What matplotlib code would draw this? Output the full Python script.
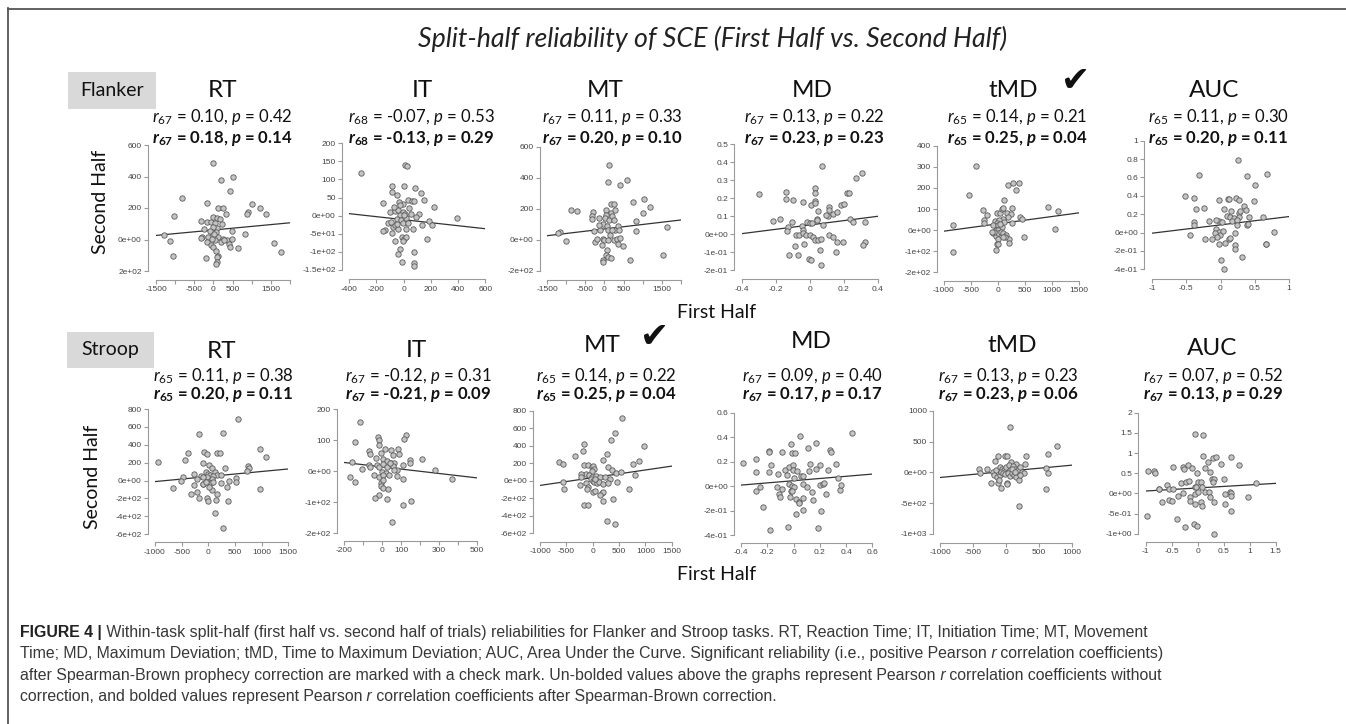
import matplotlib
matplotlib.use('Agg')
import matplotlib.pyplot as plt
from matplotlib.patches import Rectangle
from matplotlib.lines import Line2D

W, H = 1346, 724

plt.rcParams['font.family'] = ['Lato', 'DejaVu Sans']
plt.rcParams['mathtext.fontset'] = 'custom'
plt.rcParams['mathtext.rm'] = 'Lato'
plt.rcParams['mathtext.it'] = 'Lato:italic'
plt.rcParams['mathtext.bf'] = 'Lato:bold'
plt.rcParams['mathtext.bfit'] = 'Lato:italic:bold'

## data (first half = x, second half = y)
flk_rt_x = [0, 192, 523, -828, -157, 131, 244, 436, 1003, 1221, 915, 872, 1377, -1029, -323, -174, -244, -61, 0, 87,
            44, 174, 331, 218, 87, 0, -87, 70, -44, -131, 131, 262, 349, 418, 480, -288, -323, -174, -52, 0,
            70, 131, 105, 87, 70, -192, 436, 654, 828, 480, -1290, -1133, -1046, 1587, 1770, 44, 192, 279, 17, -26]
flk_rt_y = [486, 376, 397, 261, 234, 202, 202, 308, 223, 197, 172, 159, 161, 149, 119, 110, 64, 110, 142, 136,
            104, 132, 163, 96, 70, 79, 57, 47, 25, 15, 15, 2, -2, -28, 2, 19, 11, -17, -34, -49,
            -74, -102, -113, -144, -155, -117, -49, -51, 32, 51, 30, -11, -106, -25, -79, -6, -17, -6, 36, 4]

flk_it_x = [-317, 10, 27, -86, 2, 83, -86, 125, -52, 34, 59, 79, 150, -150, 226, -101, -64, -39, -7, 10,
            -27, 52, 115, 91, -52, -20, 17, -118, -81, -64, -39, -2, 17, 66, 133, 186, 206, -137, -150, -86,
            -15, 2, 20, -7, -61, 169, -27, -44, 79, -15, 79, 79, 395, -69, -2, 42, -37, -96, -47, 34, 5, -27]
flk_it_y = [117, 139, 137, 83, 83, 77, 65, 62, 56, 43, 41, 40, 42, 36, 24, 10, 14, 16, 11, 6,
            2, 5, 6, -3, -10, -12, -7, -21, -31, -27, -38, -19, -38, -38, -25, -14, -26, -40, -42, -49,
            -58, -64, -58, -69, -69, -65, -91, -105, -101, -128, -132, -139, -5, 25, 33, 20, 39, -17, -22, -19, 2, 30]

flk_mt_x = [114, 87, 420, 595, -875, -726, -289, -324, -332, -149, 35, 166, 184, 254, 280, 44, 18, 114, 192, 254,
            761, 1032, 1198, 998, 840, 831, 1636, -1164, -1207, -1006, -245, -114, -26, 61, -131, 105, 149, 280, 367, 394,
            -44, 0, 87, 254, 324, 411, 367, 481, -262, -70, 61, 35, 105, 166, -26, -26, 674, 1540, -201, 192]
flk_mt_y = [484, 372, 351, 387, 194, 183, 176, 155, 133, 140, 189, 170, 230, 230, 189, 161, 140, 129, 151, 129,
            243, 265, 213, 172, 123, 54, 82, 49, 43, -11, -17, 65, 103, 86, 97, 65, 32, 65, 86, 60,
            4, 0, 0, 0, 4, 9, -30, -43, 58, -32, -69, -97, -112, -116, -133, -146, -129, -99, 4, 65]

flk_md_x = [-0.30, -0.221, -0.178, -0.142, -0.142, -0.103, -0.039, 0.069, 0.030, 0.030, 0.030, 0.006, 0.030, 0.049,
            0.114, 0.114, 0.105, 0.138, 0.158, 0.183, 0.203, 0.221, 0.231, 0.272, 0.306, -0.132, -0.138, -0.105,
            -0.049, -0.039, -0.020, 0, 0.010, 0.039, 0.039, 0.079, 0.095, -0.081, -0.063, -0.043, -0.024, 0, 0.016,
            0.030, 0.049, 0.065, 0.114, 0.138, 0.158, 0.197, 0.237, 0.256, 0.325, 0.325, 0.316, -0.089, -0.069,
            -0.126, -0.004, 0.004, 0.059, 0.065, 0.154, -0.034]
flk_md_y = [0.224, 0.074, 0.083, 0.233, 0.196, 0.191, 0.180, 0.378, 0.259, 0.228, 0.185, 0.165, 0.172, 0.131,
            0.154, 0.135, 0.102, 0.111, 0.126, 0.165, 0.169, 0.228, 0.228, 0.315, 0.339, 0.043, 0.020, 0.070,
            0.048, 0.024, 0.070, 0.061, 0.065, 0.087, 0.080, 0.052, 0.107, -0.002, -0.006, 0.006, -0.004, -0.006,
            -0.013, -0.031, -0.031, -0.028, -0.006, -0.013, -0.041, -0.043, 0.083, 0.070, 0.070, -0.041, -0.059,
            -0.065, -0.115, -0.115, -0.139, -0.143, -0.087, -0.170, -0.100, -0.056]

flk_tmd_x = [-413, -530, -837, -837, -271, -197, -253, -253, -55, -25, 37, 111, 68, 86, 191, 283, 388, 333, 160, 253,
             240, 179, 99, 25, -25, -86, 6, 68, 111, 253, 406, 437, 917, 1114, 1053, 486, -37, 6, -86, -37,
             6, 49, 99, 148, 197, 209, 130, -6, -25, 6, -37, -74, 37, -117, 86]
flk_tmd_y = [303, 166, 22, -103, 96, 70, 47, 35, 43, 79, 79, 142, 98, 107, 213, 221, 221, 190, 79, 103,
             76, 63, 54, 47, 32, 24, 24, 16, 39, 32, 63, 51, 111, 90, 6, -35, 0, 0, -16, -28,
             -16, -8, -16, -24, -44, -60, -32, -44, -66, -68, -92, -8, 28, -8, -32]

flk_auc_x = [0.253, -0.311, 0.384, 0.686, 0.501, -0.521, -0.389, -0.355, -0.234, -0.019, 0.112, 0.131, 0.224,
             0.277, 0.336, 0.482, 0.365, 0.054, 0.156, 0.272, 0.409, 0.618, 0.092, 0.141, 0.200, 0.272, 0.175,
             0.238, 0.384, 0.399, 0.234, -0.029, 0.029, -0.394, -0.394, -0.175, -0.068, -0.063, -0.029, -0.005,
             0.034, -0.078, -0.044, -0.127, -0.224, -0.443, 0.117, 0.141, 0.214, 0.068, -0.015, 0.214, 0.214,
             0.311, 0.005, 0.044, 0.662, 0.667, 0.788, 0.287]
flk_auc_y = [0.793, 0.630, 0.616, 0.634, 0.518, 0.402, 0.373, 0.254, 0.272, 0.359, 0.366, 0.366, 0.377, 0.351,
             0.293, 0.344, 0.243, 0.257, 0.236, 0.210, 0.170, 0.167, 0.181, 0.167, 0.156, 0.174, 0.130, 0.138,
             0.083, 0.091, 0.083, 0.127, 0.120, 0.120, 0.080, 0.130, 0.138, 0.036, 0.004, -0.025, 0.018, -0.007,
             -0.051, -0.072, -0.069, -0.029, -0.065, -0.062, -0.007, -0.109, -0.127, -0.138, -0.178, -0.261,
             -0.297, -0.395, -0.127, -0.123, 0.011, 0.236]

str_rt_x = [562, -169, 269, -375, -75, -31, 169, 219, -950, -431, -94, 12, 75, 312, 969, 1081, 750, 762, 731, -262,
            -137, -50, -12, 31, 125, 169, 231, 94, 62, -19, -94, -206, -469, -512, -262, -100, 0, 44, 94, 231,
            394, 519, 519, 344, -94, -669, -319, -212, -175, -19, 0, 69, 156, 150, 375, 975, 125, 281, -44, 19]
str_rt_y = [685, 517, 536, 305, 316, 302, 309, 309, 205, 227, 194, 175, 141, 141, 350, 268, 160, 145, 104, 74,
            52, 97, 78, 67, 97, 67, 63, 52, 22, 41, 41, 22, 41, -7, -48, -34, -15, -26, -11, -22,
            -7, 26, -15, -71, -41, -86, -145, -123, -194, -190, -223, -108, -149, -220, -227, -89, -365, -529, -15, -71]

str_it_x = [-116, -146, -23, -14, 127, 116, -72, -64, -19, 16, 46, 86, 56, 90, -5, -32, 7, 25, 46, 65,
            148, 210, 148, -161, -108, -72, -64, -28, -14, 4, 28, 60, 78, 109, -2, 65, 21, 78, 109, -41,
            -19, 4, 34, -169, -143, 281, 372, -5, -5, 4, 30, -14, -37, 25, 152, 109, 51, 7, 42]
str_it_y = [158, 94, 110, 102, 116, 103, 66, 54, 83, 72, 70, 72, 51, 54, 58, 43, 39, 33, 27, 25,
            36, 40, 25, 31, 8, 19, 12, 19, 12, 23, 12, 16, 5, 19, -2, 3, -5, -16, -25, -13,
            -20, -13, -13, -18, -35, 4, -24, -38, -49, -53, -58, -78, -88, -91, -98, -110, -166, -29, 25]

str_mt_x = [557, 430, 342, 968, -165, -190, -335, 278, -639, -570, 880, 759, 190, 285, 373, 443, 532, 797, -158, -95,
            -19, 13, 32, -6, -120, -228, -222, -70, -19, 63, 139, 234, 329, 456, -241, -127, -38, 0, 32, 76,
            127, 190, 285, -82, -114, 13, 44, 171, 203, 139, 190, 392, -165, -95, 266, 424, -570, -551, 696, 44]
str_mt_y = [722, 540, 471, 399, 418, 342, 285, 300, 217, 194, 228, 186, 236, 160, 122, 84, 103, 61, 179, 175,
            160, 171, 133, 114, 72, 76, 38, 61, 46, 57, 46, 38, 15, -19, -49, -30, 15, 0, -19, -30,
            -11, -42, -30, -68, -95, -125, -114, -144, -133, -163, -232, -213, -274, -278, -456, -490, -19, -91, -95, 15]

str_md_x = [-0.386, -0.282, -0.287, -0.287, -0.256, -0.236, -0.185, -0.183, -0.173, -0.185, -0.180, -0.089, -0.117,
            -0.124, -0.109, -0.104, -0.084, -0.066, -0.036, -0.023, -0.015, 0.010, 0.048, -0.003, -0.003, 0.023,
            0.003, -0.033, -0.008, 0.003, -0.023, -0.015, -0.028, -0.041, 0.018, 0.043, 0.043, 0.074, 0.069, 0.018,
            0.069, 0.056, 0.074, 0.112, 0.129, 0.119, 0.104, 0.137, 0.150, 0.170, 0.170, 0.201, 0.201, 0.226,
            0.234, 0.213, 0.183, 0.246, 0.264, 0.277, 0.289, 0.327, 0.340, 0.353, 0.365, 0.442, -0.053]
str_md_y = [0.188, 0.220, 0.112, -0.044, -0.008, -0.174, 0.286, 0.280, 0.169, 0.112, -0.362, 0.278, 0.101, -0.011,
            -0.068, -0.087, -0.027, 0.131, 0.158, 0.340, 0.267, 0.272, 0.408, 0.171, 0.131, 0.125, 0.063, 0.014,
            0.003, -0.005, -0.041, -0.041, -0.093, -0.337, -0.106, -0.128, -0.141, -0.101, -0.196, -0.231, 0.019,
            0.084, 0.084, 0.313, 0.182, 0.125, -0.005, -0.052, -0.112, 0.351, 0.139, 0.169, 0.011, 0.014, 0.022,
            -0.201, -0.343, -0.068, 0.131, 0.299, 0.280, 0.182, 0.068, -0.035, 0.008, 0.430, 0.090]

str_tmd_x = [56, 775, 634, -112, -10, 15, 304, -172, 81, 157, 284, -405, -390, -279, -198, -147, -96, -61, -35, 5,
             41, 66, 106, 142, 182, 218, 243, 279, 613, 639, -177, -137, -96, -76, -46, -10, 30, 66, 96, 127,
             157, 193, 218, -223, -122, -101, 15, 15, -76, 613, 193, 96, 132]
str_tmd_y = [732, 423, 293, 271, 276, 276, 266, 190, 173, 146, 136, 49, -5, 65, 11, 38, 92, 65, 38, 92,
             119, 38, 103, 65, 38, 92, 11, -5, 81, -11, -43, -70, -43, 11, -16, -27, -5, -60, -5, -43,
             -70, -114, -33, -163, -163, -125, -163, -179, -249, -266, -542, 49, 0]

str_auc_x = [-0.051, 0.109, 0.096, 0.288, 0.353, 0.641, 0.801, 0.442, 0.192, -0.962, -0.840, -0.814, -0.468, -0.288,
             -0.256, -0.179, -0.115, -0.019, 0.141, 0.237, -0.596, -0.545, -0.468, -0.737, -0.321, -0.224, -0.160,
             0.013, 0.058, -0.051, -0.032, 0.077, 0.282, 0.314, 0.288, 0.506, 0.622, 0.635, 0.635, 0.526, 1.122,
             0.974, -0.288, -0.385, -0.147, -0.051, 0, 0.141, 0.224, 0.237, 0.064, 0.077, -0.051, 0.314, 0.526,
             0.635, -0.147, -0.558, -0.494, -0.692, -0.981, -0.404, -0.244, -0.064, -0.019, 0.314, -0.75]
str_auc_y = [1.463, 1.446, 0.934, 0.884, 0.909, 0.909, 0.694, 0.727, 0.777, 0.562, 0.562, 0.512, 0.653, 0.661,
             0.612, 0.711, 0.620, 0.496, 0.620, 0.521, 0.207, 0.107, 0.116, 0.107, 0.264, 0.289, 0.298, 0.289,
             0.273, 0.165, 0.157, 0.165, 0.347, 0.347, 0.281, 0.347, 0.041, 0, -0.066, -0.017, 0.248, -0.083, 0,
             -0.066, -0.083, -0.017, 0.025, 0.025, 0.025, -0.099, -0.223, -0.306, -0.264, -0.215, -0.273, -0.430,
             -0.182, -0.165, -0.182, -0.223, -0.554, -0.628, -0.835, -0.769, -0.810, -1.0, 0.107]

measures = ['RT', 'IT', 'MT', 'MD', 'tMD', 'AUC']

# fitted lines (intercept, slope) as drawn in the figure
flk_fit = [(60.3, 0.0229), (-11.0, -0.0416), (69.3, 0.0289), (0.052, 0.12), (29.8, 0.0348), (0.0835, 0.0905)]
str_fit = [(45.4, 0.0564), (13.8, -0.0709), (35.0, 0.088), (0.044, 0.09), (19.0, 0.1), (0.134, 0.076)]

# stats: df, r, p (uncorrected) and r, p (Spearman-Brown corrected)
flk_df = [67, 68, 67, 67, 65, 65]
flk_r = ['0.10', '-0.07', '0.11', '0.13', '0.14', '0.11']
flk_p = ['0.42', '0.53', '0.33', '0.22', '0.21', '0.30']
flk_r_sb = ['0.18', '-0.13', '0.20', '0.23', '0.25', '0.20']
flk_p_sb = ['0.14', '0.29', '0.10', '0.23', '0.04', '0.11']
str_df = [65, 67, 65, 67, 67, 67]
str_r = ['0.11', '-0.12', '0.14', '0.09', '0.13', '0.07']
str_p = ['0.38', '0.31', '0.22', '0.40', '0.23', '0.52']
str_r_sb = ['0.20', '-0.21', '0.25', '0.17', '0.23', '0.13']
str_p_sb = ['0.11', '0.09', '0.04', '0.17', '0.06', '0.29']

# axis ticks / labels
flk_xticks = [[-1500, -1000, -500, 0, 500, 1000, 1500, 2000], [-400, -200, 0, 200, 400, 600],
              [-1500, -1000, -500, 0, 500, 1000, 1500, 2000], [-0.4, -0.2, 0, 0.2, 0.4],
              [-1000, -500, 0, 500, 1000, 1500], [-1, -0.5, 0, 0.5, 1]]
flk_xlabs = [['-1500', '', '-500', '0', '500', '', '1500', ''], ['-400', '-200', '0', '200', '400', '600'],
             ['-1500', '', '-500', '0', '500', '', '1500', ''], ['-0.4', '-0.2', '0', '0.2', '0.4'],
             ['-1000', '-500', '0', '500', '1000', '1500'], ['-1', '-0.5', '0', '0.5', '1']]
flk_yticks = [[-200, 0, 200, 400, 600], [-150, -100, -50, 0, 50, 100, 150, 200], [-200, 0, 200, 400, 600],
              [-0.2, -0.1, 0, 0.1, 0.2, 0.3, 0.4, 0.5], [-200, -100, 0, 100, 200, 300, 400],
              [-0.4, -0.2, 0, 0.2, 0.4, 0.6, 0.8, 1]]
flk_ylabs = [['2e+02', '0e+00', '200', '400', '600'],
             ['-1.5e+02', '-1e+02', '-5e+01', '0e+00', '50', '100', '150', '200'],
             ['-2e+02', '0e+00', '200', '400', '600'],
             ['-2e-01', '-1e-01', '0e+00', '0.1', '0.2', '0.3', '0.4', '0.5'],
             ['-2e+02', '-1e+02', '0e+00', '100', '200', '300', '400'],
             ['-4e-01', '-2e-01', '0e+00', '0.2', '0.4', '0.6', '0.8', '1']]
str_xticks = [[-1000, -500, 0, 500, 1000, 1500], [-200, -100, 0, 100, 200, 300, 400, 500],
              [-1000, -500, 0, 500, 1000, 1500], [-0.4, -0.2, 0, 0.2, 0.4, 0.6],
              [-1000, -500, 0, 500, 1000], [-1, -0.5, 0, 0.5, 1, 1.5]]
str_xlabs = [['-1000', '-500', '0', '500', '1000', '1500'], ['-200', '', '0', '100', '', '300', '', '500'],
             ['-1000', '-500', '0', '500', '1000', '1500'], ['-0.4', '-0.2', '0', '0.2', '0.4', '0.6'],
             ['-1000', '-500', '0', '500', '1000'], ['-1', '-0.5', '0', '0.5', '1', '1.5']]
str_yticks = [[-600, -400, -200, 0, 200, 400, 600, 800], [-200, -100, 0, 100, 200],
              [-600, -400, -200, 0, 200, 400, 600, 800], [-0.4, -0.2, 0, 0.2, 0.4, 0.6],
              [-1000, -500, 0, 500, 1000], [-1, -0.5, 0, 0.5, 1, 1.5, 2]]
str_ylabs = [['-6e+02', '-4e+02', '-2e+02', '0e+00', '200', '400', '600', '800'],
             ['-2e+02', '-1e+02', '0e+00', '100', '200'],
             ['-6e+02', '-4e+02', '-2e+02', '0e+00', '200', '400', '600', '800'],
             ['-4e-01', '-2e-01', '0e+00', '0.2', '0.4', '0.6'],
             ['-1e+03', '-5e+02', '0e+00', '500', '1000'],
             ['-1e+00', '-5e-01', '0e+00', '0.5', '1', '1.5', '2']]

caption = [
    [('FIGURE 4 |', 'bold'), (' Within-task split-half (first half vs. second half of trials) reliabilities for '
                              'Flanker and Stroop tasks. RT, Reaction Time; IT, Initiation Time; MT, Movement', 'normal')],
    [('Time; MD, Maximum Deviation; tMD, Time to Maximum Deviation; AUC, Area Under the Curve. Significant '
      'reliability (i.e., positive Pearson', 'normal'), (' r', 'italic'), (' correlation coefficients)', 'normal')],
    [('after Spearman-Brown prophecy correction are marked with a check mark. Un-bolded values above the graphs '
      'represent Pearson', 'normal'), (' r', 'italic'), (' correlation coefficients without', 'normal')],
    [('correction, and bolded values represent Pearson', 'normal'), (' r', 'italic'),
     (' correlation coefficients after Spearman-Brown correction.', 'normal')],
]

## layout (pixels): data box x0, x1, ytop, ybottom, y-spine x, x-spine y
flk_box = [(156, 290, 145, 271, 148, 280), (349.3, 485.2, 143.3, 270, 342, 279.3),
           (547.3, 680.7, 146.7, 270.7, 540, 280), (742.3, 877.7, 144.3, 270.3, 734.3, 279.3),
           (944, 1079.3, 145.7, 272.3, 937.3, 280.7), (1152, 1289, 140.7, 269.3, 1144.3, 278.7)]
str_box = [(155, 288.3, 409, 534.3, 147.7, 542.3), (344.3, 476.7, 409.3, 533, 337.3, 541),
           (540, 671.7, 410.7, 533.3, 533.3, 541.7), (741, 872.3, 412.7, 535, 734.3, 542.7),
           (940, 1071.7, 411, 534, 933.3, 542.7), (1145.7, 1275.7, 412.7, 533.7, 1138.3, 542)]
flk_title_x = [223, 422, 605, 812, 1013, 1214]
flk_stat_x = [222, 421, 612, 814, 1017, 1218]
str_title_x = [222, 416, 602, 811, 1012, 1212]
str_stat_x = [223, 418, 606, 812, 1008, 1213]
str_title_y = [358, 357, 352, 348, 352, 355]
check_marks = [(1076, 81), (655, 337)]


def fx(x):
    return x / W


def fy(y):
    return 1 - y / H


fig = plt.figure(figsize=(W / 100, H / 100), dpi=100)
fig.patch.set_facecolor('white')

# frame lines (top and left only)
fig.add_artist(Line2D([fx(8), fx(8)], [fy(8), 0], transform=fig.transFigure, color='#555555', lw=1.3))
fig.add_artist(Line2D([fx(8), 1], [fy(8.5), fy(8.5)], transform=fig.transFigure, color='#555555', lw=1.3))

fig.text(fx(713), fy(47), 'Split-half reliability of SCE (First Half vs. Second Half)', style='italic',
         fontsize=19.3, ha='center', va='baseline', color='#222222')


def draw_row(xs, ys, fits, xticks, xlabs, yticks, ylabs, boxes):
    for i in range(6):
        x0, x1, yt, yb, ysp, xsp = boxes[i]
        ax = fig.add_axes([fx(x0), fy(yb), (x1 - x0) / W, (yb - yt) / H])
        ax.patch.set_alpha(0)
        ax.set_xlim(xticks[i][0], xticks[i][-1])
        ax.set_ylim(yticks[i][0], yticks[i][-1])
        ax.scatter(xs[i], ys[i], s=15, facecolor='#c4c4c4', edgecolor='#5a5a5a', linewidth=0.6,
                   clip_on=False, zorder=3)
        b, m = fits[i]
        ax.axline((0, b), slope=m, color='#333333', lw=0.9, zorder=2)
        for s in ['top', 'right']:
            ax.spines[s].set_visible(False)
        ax.spines['left'].set_position(('outward', (x0 - ysp) * 0.72))
        ax.spines['bottom'].set_position(('outward', (xsp - yb) * 0.72))
        for s in ['left', 'bottom']:
            ax.spines[s].set_color('#9a9a9a')
            ax.spines[s].set_linewidth(0.8)
        ax.set_xticks(xticks[i], xlabs[i])
        ax.set_yticks(yticks[i], ylabs[i])
        ax.tick_params(length=3, width=0.8, color='#9a9a9a', pad=1.5, labelsize=6, labelcolor='#444444')
        for lab in ax.get_xticklabels() + ax.get_yticklabels():
            lab.set_family('Liberation Sans')


draw_row([flk_rt_x, flk_it_x, flk_mt_x, flk_md_x, flk_tmd_x, flk_auc_x],
         [flk_rt_y, flk_it_y, flk_mt_y, flk_md_y, flk_tmd_y, flk_auc_y],
         flk_fit, flk_xticks, flk_xlabs, flk_yticks, flk_ylabs, flk_box)
draw_row([str_rt_x, str_it_x, str_mt_x, str_md_x, str_tmd_x, str_auc_x],
         [str_rt_y, str_it_y, str_mt_y, str_md_y, str_tmd_y, str_auc_y],
         str_fit, str_xticks, str_xlabs, str_yticks, str_ylabs, str_box)


def draw_labels(title_x, title_y, stat_x, y1, y2, df, r, p, r2, p2):
    for i in range(6):
        fig.text(fx(title_x[i]), fy(title_y[i]), measures[i], fontsize=17.5, ha='center', va='baseline',
                 color='#111111')
        fig.text(fx(stat_x[i]), fy(y1), f'$r_{{{df[i]}}}$ = {r[i]}, $p$ = {p[i]}', fontsize=12.1,
                 ha='center', va='baseline', color='#111111')
        fig.text(fx(stat_x[i]), fy(y2),
                 f'$\\mathbfit{{r}}_{{\\mathbf{{{df[i]}}}}}$ = {r2[i]}, $\\mathbfit{{p}}$ = {p2[i]}',
                 fontsize=12.1, fontweight='bold', ha='center', va='baseline', color='#111111')


draw_labels(flk_title_x, [97] * 6, flk_stat_x, 122, 143, flk_df, flk_r, flk_p, flk_r_sb, flk_p_sb)
draw_labels(str_title_x, str_title_y, str_stat_x, 381, 399, str_df, str_r, str_p, str_r_sb, str_p_sb)

for cx, cy in check_marks:
    fig.text(fx(cx), fy(cy), '\u2714', family='DejaVu Sans', fontsize=25, ha='center', va='center',
             color='#111111')

# task boxes
for (bx, by, bw, bh), name in [((68, 72, 88, 37), 'Flanker'), ((67, 332, 87, 36), 'Stroop')]:
    fig.add_artist(Rectangle((fx(bx), fy(by + bh)), bw / W, bh / H, transform=fig.transFigure,
                             facecolor='#d9d9d9', edgecolor='none'))
    fig.text(fx(bx + bw / 2), fy(by + bh / 2), name, fontsize=14, ha='center', va='center', color='#111111')

for yy in [313, 575]:
    fig.text(fx(717), fy(yy), 'First Half', fontsize=14, ha='center', va='center', color='#111111')
for xx, yy in [(100, 202), (93, 477)]:
    fig.text(fx(xx), fy(yy), 'Second Half', fontsize=14, rotation=90, ha='center', va='center', color='#111111')

# caption, pieces chained one after another
cap_ax = fig.add_axes([0, 0, 1, 1])
cap_ax.axis('off')
for k, line in enumerate(caption):
    prev = None
    for txt, sty in line:
        kw = dict(fontsize=11.4, family='Liberation Sans', color='#383838', ha='left', va='bottom')
        if sty == 'bold':
            kw['fontweight'] = 'bold'
            kw['color'] = '#222222'
        if sty == 'italic':
            kw['style'] = 'italic'
        if prev is None:
            prev = cap_ax.text(fx(20), fy(640 + 21.3 * k), txt, transform=fig.transFigure, **kw)
        else:
            prev = cap_ax.annotate(txt, xy=(1, 0), xycoords=prev, xytext=(0, 0),
                                   textcoords='offset points', **kw)

fig.savefig('out.png', dpi=100)
